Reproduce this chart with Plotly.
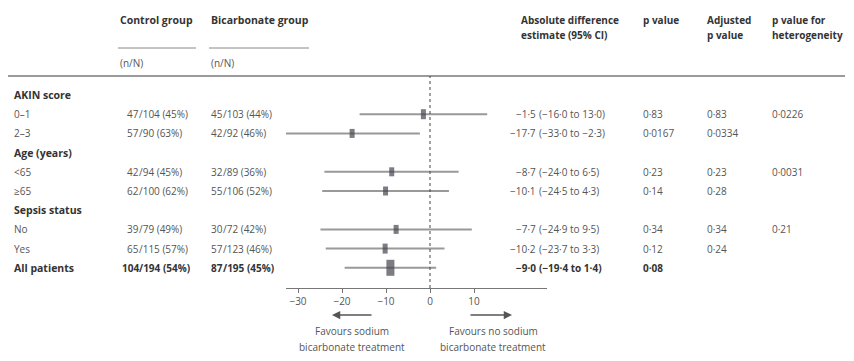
import plotly.graph_objects as go

# ---------------- data ----------------
row_labels = ["AKIN score", "0–1", "2–3", "Age (years)", "<65", "≥65",
              "Sepsis status", "No", "Yes", "All patients"]
row_bold = [True, False, False, True, False, False, True, False, False, True]

control_n = [None, 47, 57, None, 42, 62, None, 39, 65, 104]
control_N = [None, 104, 90, None, 94, 100, None, 79, 115, 194]
control_pct = [None, 45, 63, None, 45, 62, None, 49, 57, 54]
bicarb_n = [None, 45, 42, None, 32, 55, None, 30, 57, 87]
bicarb_N = [None, 103, 92, None, 89, 106, None, 72, 123, 195]
bicarb_pct = [None, 44, 46, None, 36, 52, None, 42, 46, 45]

estimate = [None, -1.5, -17.7, None, -8.7, -10.1, None, -7.7, -10.2, -9.0]
ci_low = [None, -16.0, -33.0, None, -24.0, -24.5, None, -24.9, -23.7, -19.4]
ci_high = [None, 13.0, -2.3, None, 6.5, 4.3, None, 9.5, 3.3, 1.4]

p_value = [None, "0·83", "0·0167", None, "0·23", "0·14", None, "0·34", "0·12", "0·08"]
adj_p_value = [None, "0·83", "0·0334", None, "0·23", "0·28", None, "0·34", "0·24", None]
p_het = [None, "0·0226", None, None, "0·0031", None, None, "0·21", None, None]

x_ticks = [-30, -20, -10, 0, 10]

# ---------------- style ----------------
box_height_px = [None, 10, 9, None, 9, 9, None, 9, 10, 16]
box_width_px = [None, 5, 5, None, 5, 5, None, 5, 5, 8]

OFF = 8                      # page body margin
W, H = 854 - OFF, 361 - OFF
FONT = "Open Sans"
TXT = "#555555"
HDR = "#333333"
FS = 10
FSH = 10.5


def px(x):
    return (x - OFF) / W


def py(y):
    return (H - (y - OFF)) / H


def fmt(v):
    return f"{v:.1f}".replace(".", "·").replace("-", "−")


# axis geometry (page pixel mapping)
x0_px, x_scale = 430.0, 4.4
ax_left, ax_right = 286.0, 547.0
axis_y = 288.0
row0_y, row_step = 95.0, 19.2
y_top = (OFF - row0_y) / row_step
y_bot = (axis_y - row0_y) / row_step

fig = go.Figure()
rows = list(range(len(row_labels)))

# CI lines
lx, ly = [], []
for i in rows:
    if estimate[i] is None:
        continue
    lx += [ci_low[i], ci_high[i], None]
    ly += [i, i, None]
fig.add_trace(go.Scatter(x=lx, y=ly, mode="lines",
                         line=dict(color="#999999", width=2),
                         hoverinfo="skip", showlegend=False))

# estimate boxes
mx, my, ms, mw = [], [], [], []
for i in rows:
    if estimate[i] is None:
        continue
    mx.append(estimate[i])
    my.append(i)
    ms.append(box_height_px[i] / 1.4)
    mw.append(box_width_px[i])
fig.add_trace(go.Scatter(x=mx, y=my, mode="markers",
                         marker=dict(symbol="line-ns", size=ms,
                                     color="#454550",
                                     line=dict(color="#454550", width=mw)),
                         hoverinfo="skip", showlegend=False))

ann = []


def add_text(text, x, y, xanchor="left", yref="paper", bold=False, color=TXT,
             size=FS):
    if bold:
        text = f"<b>{text}</b>"
    ann.append(dict(text=text, x=x, y=y, xref="paper", yref=yref,
                    xanchor=xanchor, yanchor="middle", showarrow=False,
                    borderpad=0, borderwidth=0,
                    font=dict(family=FONT, size=size, color=color)))


# headers
add_text("Control group", px(120), py(20), bold=True, color=HDR, size=FSH)
add_text("Bicarbonate group", px(211), py(20), bold=True, color=HDR, size=FSH)
add_text("(n/N)", px(120), py(63))
add_text("(n/N)", px(211), py(63))
add_text("Absolute difference", px(521), py(20), bold=True, color=HDR, size=FS)
add_text("estimate (95% CI)", px(521), py(35), bold=True, color=HDR, size=FS)
add_text("p value", px(643), py(20), bold=True, color=HDR, size=FS)
add_text("Adjusted", px(707), py(20), bold=True, color=HDR, size=FS)
add_text("p value", px(707), py(35), bold=True, color=HDR, size=FS)
add_text("p value for", px(772), py(20), bold=True, color=HDR, size=FS)
add_text("heterogeneity", px(772), py(35), bold=True, color=HDR, size=FS)

# rows
for i in rows:
    b = row_bold[i]
    col = HDR if b else TXT
    add_text(row_labels[i], px(14), i, yref="y", bold=b, color=col,
             size=FSH if b else FS)
    if control_n[i] is not None:
        add_text(str(control_n[i]), px(139), i, xanchor="right", yref="y", bold=b, color=col)
        add_text(f"/{control_N[i]} ({control_pct[i]}%)", px(139), i, yref="y", bold=b, color=col)
        add_text(str(bicarb_n[i]), px(223), i, xanchor="right", yref="y", bold=b, color=col)
        add_text(f"/{bicarb_N[i]} ({bicarb_pct[i]}%)", px(223), i, yref="y", bold=b, color=col)
    if estimate[i] is not None:
        add_text(fmt(estimate[i]), px(536), i, xanchor="right", yref="y", bold=b, color=col)
        add_text(f"({fmt(ci_low[i])} to {fmt(ci_high[i])})", px(539), i, yref="y", bold=b, color=col)
    if p_value[i]:
        add_text(p_value[i], px(643), i, yref="y", bold=b, color=col)
    if adj_p_value[i]:
        add_text(adj_p_value[i], px(707), i, yref="y", bold=b, color=col)
    if p_het[i]:
        add_text(p_het[i], px(772), i, yref="y", bold=b, color=col)

# favour arrows and captions
for tip, tail in [(332, 373), (512, 469)]:
    ann.append(dict(text="", x=px(tip), y=py(315), xref="paper", yref="paper",
                    ax=tail - tip, ay=0, showarrow=True, arrowhead=2,
                    arrowsize=1.1, arrowwidth=1.5, arrowcolor="#555555"))
for cx, t in [(352, "Favours sodium"), (493, "Favours no sodium")]:
    add_text(t, px(cx), py(331), xanchor="center")
    add_text("bicarbonate treatment", px(cx), py(347), xanchor="center")

shapes = [
    dict(type="line", xref="paper", yref="paper", x0=px(8), x1=px(845),
         y0=py(76), y1=py(76), line=dict(color="#9a9a9a", width=2)),
    dict(type="line", xref="paper", yref="paper", x0=px(118), x1=px(196),
         y0=py(48), y1=py(48), line=dict(color="#888888", width=1)),
    dict(type="line", xref="paper", yref="paper", x0=px(209), x1=px(309),
         y0=py(48), y1=py(48), line=dict(color="#888888", width=1)),
    dict(type="line", xref="x", yref="paper", x0=0, x1=0,
         y0=py(axis_y), y1=py(76), line=dict(color="#444444", width=1, dash="dot")),
]

fig.update_layout(
    width=W, height=H,
    margin=dict(l=0, r=0, t=0, b=0),
    paper_bgcolor="white", plot_bgcolor="white",
    annotations=ann, shapes=shapes,
    font=dict(family=FONT, size=FS, color=TXT),
    xaxis=dict(domain=[px(ax_left), px(ax_right)],
               range=[(ax_left - x0_px) / x_scale, (ax_right - x0_px) / x_scale],
               showgrid=False, zeroline=False, showline=True,
               linecolor="#777777", linewidth=1,
               ticks="outside", ticklen=4, tickcolor="#777777",
               tickvals=x_ticks, ticktext=[str(v).replace("-", "−") for v in x_ticks],
               tickfont=dict(family=FONT, size=FS, color=TXT), fixedrange=True),
    yaxis=dict(domain=[py(axis_y), 1], range=[y_bot, y_top],
               visible=False, showgrid=False, zeroline=False, fixedrange=True),
    showlegend=False,
)

fig.write_html("out.html")
